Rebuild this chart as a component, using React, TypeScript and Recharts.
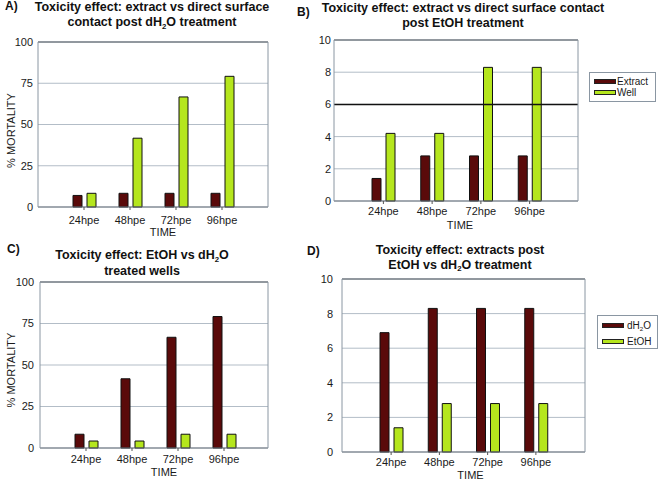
import { Bar, BarChart, CartesianGrid, Legend, ReferenceLine, XAxis, YAxis } from 'recharts';

const hpe = ['24hpe', '48hpe', '72hpe', '96hpe'];
// A) extract vs well, dH2O
const aExtract = [7, 8.3, 8.3, 8.3];
const aWell = [8.3, 41.7, 66.7, 79.2];
// B) extract vs well, EtOH
const bExtract = [1.4, 2.8, 2.8, 2.8];
const bWell = [4.2, 4.2, 8.3, 8.3];
// C) treated wells
const cDH2O = [8.3, 41.7, 66.7, 79.2];
const cEtOH = [4.2, 4.2, 8.3, 8.3];
// D) extracts
const dDH2O = [6.9, 8.3, 8.3, 8.3];
const dEtOH = [1.4, 2.8, 2.8, 2.8];

const pctTicks = [0, 25, 50, 75, 100];
const countTicks = [0, 2, 4, 6, 8, 10];

const MAROON = '#5a0a0a';
const LIME = '#b5e61d';
const GRID = '#b3bdc7';
const FRAME = '#8a96a2';
const FONT = '"Liberation Sans", Arial, Helvetica, sans-serif';

const rows = (a: number[], b: number[]) => hpe.map((time, i) => ({ time, a: a[i], b: b[i] }));

// renders "dH2O" with a lowered 2
function rich(s: string) {
  const parts = s.split('H2O');
  return parts.map((p, i) => (
    <span key={i}>
      {p}
      {i < parts.length - 1 && (
        <>
          H<span style={{ fontSize: '0.62em', position: 'relative', top: '0.35em', lineHeight: 0 }}>2</span>O
        </>
      )}
    </span>
  ));
}

const timeTitle = (dx: number, dy: number) => (props: any) => {
  const vb = props.viewBox ?? props;
  return (
    <text x={vb.x + vb.width / 2 + dx} y={vb.y + dy} textAnchor="middle" fontSize={11} fill="#1a1a1a">
      TIME
    </text>
  );
};

const mortalityTitle = (dy: number) => (props: any) => {
  const vb = props.viewBox ?? props;
  const x = vb.x + 11;
  const y = vb.y + vb.height / 2 + dy;
  return (
    <text x={x} y={y} transform={`rotate(-90 ${x} ${y})`} textAnchor="middle" dominantBaseline="central" fontSize={11} fill="#1a1a1a">
      % MORTALITY
    </text>
  );
};

interface LegendCfg {
  left: number;
  top: number;
  w: number;
  h: number;
  row: number;
  padTop: number;
  gap: number;
}

const legendBox = (cfg: LegendCfg) => (props: any) => (
  <div
    style={{
      width: cfg.w,
      height: cfg.h,
      border: `1px solid ${FRAME}`,
      background: '#fff',
      boxSizing: 'border-box',
      paddingTop: cfg.padTop,
      fontSize: 10,
      color: '#1a1a1a',
      fontFamily: FONT,
    }}
  >
    {(props.payload ?? []).map((p: any) => (
      <div key={p.value} style={{ display: 'flex', alignItems: 'center', height: cfg.row, paddingLeft: 4 }}>
        <span
          style={{
            display: 'inline-block',
            width: 22,
            height: 5,
            background: p.color,
            border: '1px solid #222',
            boxSizing: 'border-box',
            marginRight: cfg.gap,
          }}
        />
        <span>{rich(String(p.value))}</span>
      </div>
    ))}
  </div>
);

interface PanelProps {
  left: number;
  top: number;
  width: number;
  height: number;
  mTop: number;
  mRight: number;
  yWidth: number;
  yTickSize: number;
  yTickMargin: number;
  xHeight: number;
  xTickMargin: number;
  pad: { left: number; right: number };
  data: { time: string; a: number; b: number }[];
  domain: [number, number];
  ticks: number[];
  names: [string, string];
  legend?: LegendCfg;
  yTitleDy?: number;
  timeDx: number;
  timeDy: number;
  darkLine?: number;
}

function Panel(p: PanelProps) {
  // the top x-axis and the right y-axis are 1px wide, they only draw the frame
  return (
    <div style={{ position: 'absolute', left: p.left, top: p.top }}>
      <BarChart
        width={p.width}
        height={p.height}
        data={p.data}
        margin={{ top: p.mTop - 1, right: p.mRight - 1, bottom: 0, left: 0 }}
        barGap={5}
      >
        <CartesianGrid vertical={false} stroke={GRID} />
        <XAxis
          dataKey="time"
          height={p.xHeight}
          padding={p.pad}
          axisLine={{ stroke: '#6a737c' }}
          tickLine={{ stroke: '#555' }}
          tickSize={3}
          tickMargin={p.xTickMargin}
          tick={{ fontSize: 11, fill: '#1a1a1a' }}
          interval={0}
          label={timeTitle(p.timeDx, p.timeDy)}
        />
        <XAxis
          xAxisId="top"
          orientation="top"
          dataKey="time"
          height={1}
          tick={false}
          tickLine={false}
          axisLine={{ stroke: '#4a525a' }}
        />
        <YAxis
          width={p.yWidth}
          domain={p.domain}
          ticks={p.ticks}
          interval={0}
          axisLine={{ stroke: FRAME }}
          tickLine={false}
          tickSize={p.yTickSize}
          tickMargin={p.yTickMargin}
          tick={{ fontSize: 11, fill: '#1a1a1a' }}
          label={p.yTitleDy !== undefined ? mortalityTitle(p.yTitleDy) : undefined}
        />
        <YAxis
          yAxisId="right"
          orientation="right"
          width={1}
          domain={p.domain}
          tick={false}
          tickLine={false}
          axisLine={{ stroke: FRAME }}
        />
        {p.darkLine !== undefined && <ReferenceLine y={p.darkLine} stroke="#111" strokeWidth={1.5} />}
        <Bar dataKey="a" name={p.names[0]} fill={MAROON} stroke="#111" strokeWidth={1} barSize={9} isAnimationActive={false} />
        <Bar dataKey="b" name={p.names[1]} fill={LIME} stroke="#111" strokeWidth={1} barSize={9} isAnimationActive={false} />
        {p.legend && (
          <Legend
            layout="vertical"
            align="center"
            verticalAlign="middle"
            itemSorter="dataKey"
            wrapperStyle={{ left: p.legend.left, top: p.legend.top, width: p.legend.w, right: 'auto', bottom: 'auto' }}
            content={legendBox(p.legend)}
          />
        )}
      </BarChart>
    </div>
  );
}

function Title({ lines, cx, top, lh }: { lines: string[]; cx: number; top: number; lh: number }) {
  return (
    <div
      style={{
        position: 'absolute',
        left: cx - 200,
        top,
        width: 400,
        textAlign: 'center',
        fontWeight: 'bold',
        fontSize: 12.5,
        lineHeight: `${lh}px`,
        color: '#111',
        whiteSpace: 'nowrap',
      }}
    >
      {lines.map((l) => (
        <div key={l}>{rich(l)}</div>
      ))}
    </div>
  );
}

function Tag({ text, left, top }: { text: string; left: number; top: number }) {
  return (
    <div style={{ position: 'absolute', left, top, fontWeight: 'bold', fontSize: 12, lineHeight: '14px', color: '#111' }}>
      {text}
    </div>
  );
}

export default function App() {
  return (
    <div
      style={{
        position: 'relative',
        width: 661,
        height: 481,
        background: '#fff',
        overflow: 'hidden',
        fontFamily: FONT,
      }}
    >
      <style>{'body{margin:0}'}</style>

      <Tag text="A)" left={5} top={-1} />
      <Title lines={['Toxicity effect: extract vs direct surface', 'contact post dH2O treatment']} cx={152} top={0} lh={15} />
      <Panel
        left={0}
        top={0}
        width={330}
        height={240}
        mTop={42}
        mRight={62}
        yWidth={38}
        yTickSize={3}
        yTickMargin={2}
        xHeight={33}
        xTickMargin={6}
        pad={{ left: 23, right: 23 }}
        data={rows(aExtract, aWell)}
        domain={[0, 100]}
        ticks={pctTicks}
        names={['Extract', 'Well']}
        yTitleDy={6}
        timeDx={10}
        timeDy={29}
      />

      <Tag text="B)" left={297} top={5} />
      <Title lines={['Toxicity effect: extract vs direct surface contact', 'post EtOH treatment']} cx={463} top={1} lh={15} />
      <Panel
        left={300}
        top={0}
        width={361}
        height={240}
        mTop={40}
        mRight={83}
        yWidth={34}
        yTickSize={1}
        yTickMargin={2}
        xHeight={39}
        xTickMargin={3}
        pad={{ left: 25, right: 24 }}
        data={rows(bExtract, bWell)}
        domain={[0, 10]}
        ticks={countTicks}
        names={['Extract', 'Well']}
        legend={{ left: 289, top: 72, w: 67, h: 30, row: 11, padTop: 3, gap: 1 }}
        darkLine={6}
        timeDx={4}
        timeDy={28}
      />

      <Tag text="C)" left={7} top={242} />
      <Title lines={['Toxicity effect: EtOH vs dH2O', 'treated wells']} cx={142} top={247} lh={16} />
      <Panel
        left={0}
        top={240}
        width={330}
        height={241}
        mTop={42}
        mRight={62}
        yWidth={40}
        yTickSize={3}
        yTickMargin={3}
        xHeight={33}
        xTickMargin={4}
        pad={{ left: 23, right: 21 }}
        data={rows(cDH2O, cEtOH)}
        domain={[0, 100]}
        ticks={pctTicks}
        names={['dH2O', 'EtOH']}
        yTitleDy={5}
        timeDx={10}
        timeDy={28}
      />

      <Tag text="D)" left={307} top={244} />
      <Title lines={['Toxicity effect: extracts post', 'EtOH vs dH2O treatment']} cx={460} top={243} lh={14.7} />
      <Panel
        left={300}
        top={240}
        width={361}
        height={241}
        mTop={39}
        mRight={76}
        yWidth={42}
        yTickSize={3}
        yTickMargin={6}
        xHeight={29}
        xTickMargin={3}
        pad={{ left: 25, right: 25 }}
        data={rows(dDH2O, dEtOH)}
        domain={[0, 10]}
        ticks={countTicks}
        names={['dH2O', 'EtOH']}
        legend={{ left: 297, top: 75, w: 61, h: 34, row: 15.5, padTop: 2, gap: 3 }}
        timeDx={7}
        timeDy={27}
      />
    </div>
  );
}
